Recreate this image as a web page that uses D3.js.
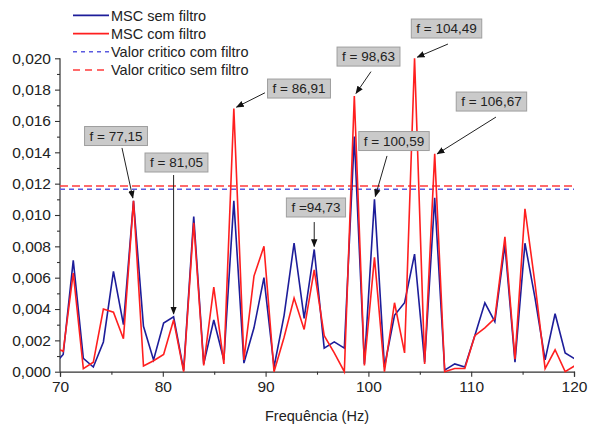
<!DOCTYPE html>
<html>
<head>
<meta charset="utf-8">
<script src="https://cdn.jsdelivr.net/npm/d3@7"></script>
<style>
  body { margin: 0; background: #fff; }
  svg { display: block; font-family: "Liberation Sans", Arial, sans-serif; }
</style>
</head>
<body>
<svg id="chart" width="589" height="425"></svg>
<script>
// frequency bins (Hz)
var freqs = [69.34, 70.31, 71.29, 72.27, 73.24, 74.22, 75.20, 76.17, 77.15, 78.12,
  79.10, 80.08, 81.05, 82.03, 83.01, 83.98, 84.96, 85.94, 86.91, 87.89,
  88.87, 89.84, 90.82, 91.80, 92.77, 93.75, 94.73, 95.70, 96.68, 97.66,
  98.63, 99.61, 100.59, 101.56, 102.54, 103.52, 104.49, 105.47, 106.45, 107.42,
  108.40, 109.38, 110.35, 111.33, 112.30, 113.28, 114.26, 115.23, 116.21, 117.19,
  118.16, 119.14, 120.12];

// MSC sem filtro
var mscSem = [0.0004, 0.0011, 0.0071, 0.00085, 0.0003, 0.0019, 0.0064, 0.0030, 0.0109, 0.0029,
  0.00075, 0.0031, 0.0035, 0.0001, 0.0099, 0.0005, 0.0033, 0.00075, 0.0109, 0.00055,
  0.0028, 0.0060, 0.0003, 0.0036, 0.0082, 0.0034, 0.0078, 0.0015, 0.0019, 0.0015,
  0.0150, 0.0005, 0.0110, 0.0003, 0.0036, 0.0044, 0.0075, 0.0006, 0.0111, 0.0001,
  0.0005, 0.0003, 0.0023, 0.0044, 0.0032, 0.0081, 0.0006, 0.0082, 0.0047, 0.00075,
  0.0037, 0.0012, 0.0008];

// MSC com filtro
var mscCom = [0.0016, 0.0013, 0.0063, 0.0002, 0.0006, 0.0040, 0.0038, 0.0021, 0.0109, 0.00036,
  0.0007, 0.0011, 0.0033, 0.0000, 0.0095, 0.0004, 0.0054, 0.0005, 0.0168, 0.00075,
  0.0061, 0.0080, 0.0000, 0.0022, 0.0047, 0.0027, 0.0065, 0.0023, 0.0012, 0.0000,
  0.0176, 0.0004, 0.0073, 0.0000, 0.0044, 0.0012, 0.0200, 0.0005, 0.0139, 0.0000,
  0.0002, 0.0002, 0.0023, 0.0028, 0.0034, 0.0086, 0.0008, 0.0104, 0.0056, 0.0002,
  0.0014, 0.0000, 0.0004];

var criticoCom = 0.01164;
var criticoSem = 0.01185;

var legendLabels = ["MSC sem filtro", "MSC com filtro", "Valor critico com filtro", "Valor critico sem filtro"];

// annotations: label, point (f, v), box centre (bx, by), arrow tail (ax, ay)
var notes = [
  { label: "f = 77,15",  f: 77.15,  v: 0.0109, bx: 75.45,  by: 0.01504, ax: 76.03,  ay: 0.01428 },
  { label: "f = 81,05",  f: 81.05,  v: 0.0035, bx: 81.33,  by: 0.01335, ax: 81.05,  ay: 0.01255 },
  { label: "f = 86,91",  f: 86.91,  v: 0.0168, bx: 93.25,  by: 0.01807, ax: 89.94,  ay: 0.0178 },
  { label: "f = 98,63",  f: 98.63,  v: 0.0176, bx: 100.01, by: 0.02011, ax: 100.25, ay: 0.01915 },
  { label: "f = 104,49", f: 104.49, v: 0.0200, bx: 107.6,  by: 0.0219,  ax: 107.74, ay: 0.02091 },
  { label: "f = 106,67", f: 106.45, v: 0.0138, bx: 111.97, by: 0.01724, ax: 112.41, ay: 0.01625 },
  { label: "f = 100,59", f: 100.59, v: 0.0110, bx: 102.49, by: 0.01472, ax: 101.81, ay: 0.01377 },
  { label: "f =94,73",   f: 94.73,  v: 0.0078, bx: 94.9,   by: 0.01048, ax: 94.73,  ay: 0.00955 }
];

var colors = { sem: "#1d1d9a", com: "#ff1f1f", critCom: "#5b5be0", critSem: "#ff3b3b" };

var svg = d3.select("#chart");
var x = d3.scaleLinear().domain([70, 120]).range([60, 574]);
var y = d3.scaleLinear().domain([0, 0.020]).range([371.7, 58.3]);

var ptBR = d3.formatLocale({ decimal: ",", thousands: ".", grouping: [3], currency: ["R$", ""] });
var fmt = ptBR.format(".3f");

var defs = svg.append("defs");
defs.append("clipPath").attr("id", "plotclip")
  .append("rect").attr("x", 60).attr("y", 0).attr("width", 514).attr("height", 380);

defs.append("marker")
  .attr("id", "arrow")
  .attr("viewBox", "0 0 10 10")
  .attr("refX", 9).attr("refY", 5)
  .attr("markerWidth", 8).attr("markerHeight", 8)
  .attr("markerUnits", "userSpaceOnUse")
  .attr("orient", "auto")
  .append("path").attr("d", "M0,1 L10,5 L0,9 z").attr("fill", "#111");

// axes
var yAxis = svg.append("g").attr("transform", "translate(60,0)")
  .call(d3.axisLeft(y).tickValues(d3.range(0, 0.0201, 0.002)).tickSize(5).tickFormat(fmt));
svg.append("g").attr("transform", "translate(60,0)")
  .call(d3.axisLeft(y).tickValues(d3.range(0.001, 0.020, 0.002)).tickSize(3).tickFormat(""))
  .select(".domain").remove();

var xAxis = svg.append("g").attr("transform", "translate(0,371.7)")
  .call(d3.axisBottom(x).tickValues([70, 80, 90, 100, 110, 120]).tickSize(5));
svg.append("g").attr("transform", "translate(0,371.7)")
  .call(d3.axisBottom(x).tickValues([75, 85, 95, 105, 115]).tickSize(3).tickFormat(""))
  .select(".domain").remove();

svg.selectAll(".domain").attr("stroke", "#333").attr("stroke-width", 1.2);
svg.selectAll(".tick line").attr("stroke", "#333").attr("stroke-width", 1.1);
yAxis.selectAll("text").attr("font-size", 15.5).attr("fill", "#222").attr("x", -9);
xAxis.selectAll("text").attr("font-size", 15.5).attr("fill", "#222").attr("y", 9);
yAxis.selectAll("path.domain").attr("d", "M0,371.7V58.3");

svg.append("text")
  .attr("x", 317).attr("y", 421)
  .attr("text-anchor", "middle")
  .attr("font-size", 14.5).attr("fill", "#222")
  .text("Frequência (Hz)");

// critical lines
var plot = svg.append("g").attr("clip-path", "url(#plotclip)");
plot.append("line")
  .attr("x1", x(70)).attr("x2", x(120))
  .attr("y1", y(criticoCom)).attr("y2", y(criticoCom))
  .attr("stroke", colors.critCom).attr("stroke-width", 1.5).attr("stroke-dasharray", "5,4");
plot.append("line")
  .attr("x1", x(70)).attr("x2", x(120))
  .attr("y1", y(criticoSem)).attr("y2", y(criticoSem))
  .attr("stroke", colors.critSem).attr("stroke-width", 1.5).attr("stroke-dasharray", "8,4");

var line = d3.line().x(function(d) { return x(d[0]); }).y(function(d) { return y(d[1]); });

plot.append("path")
  .datum(d3.zip(freqs, mscSem))
  .attr("d", line).attr("fill", "none")
  .attr("stroke", colors.sem).attr("stroke-width", 1.6).attr("stroke-linejoin", "miter");
plot.append("path")
  .datum(d3.zip(freqs, mscCom))
  .attr("d", line).attr("fill", "none")
  .attr("stroke", colors.com).attr("stroke-width", 1.6).attr("stroke-linejoin", "miter");

// annotations
var ann = svg.append("g").selectAll("g").data(notes).join("g");
ann.append("line")
  .attr("x1", function(d) { return x(d.ax); })
  .attr("y1", function(d) { return y(d.ay); })
  .attr("x2", function(d) {
    var dx = x(d.f) - x(d.ax), dy = y(d.v) - y(d.ay), L = Math.hypot(dx, dy);
    return x(d.ax) + dx * (L - 3) / L;
  })
  .attr("y2", function(d) {
    var dx = x(d.f) - x(d.ax), dy = y(d.v) - y(d.ay), L = Math.hypot(dx, dy);
    return y(d.ay) + dy * (L - 3) / L;
  })
  .attr("stroke", "#222").attr("stroke-width", 1)
  .attr("marker-end", "url(#arrow)");

ann.each(function(d) {
  var g = d3.select(this);
  var t = g.append("text")
    .attr("x", x(d.bx)).attr("y", y(d.by) + 4.8)
    .attr("text-anchor", "middle")
    .attr("font-size", 13.5).attr("fill", "#222")
    .text(d.label);
  var w = t.node().getComputedTextLength() + 10;
  g.insert("rect", "text")
    .attr("x", x(d.bx) - w / 2).attr("y", y(d.by) - 9.5)
    .attr("width", w).attr("height", 19)
    .attr("fill", "#cacaca").attr("stroke", "#9e9e9e").attr("stroke-width", 1);
});

// legend
var legend = svg.append("g").selectAll("g").data(legendLabels).join("g")
  .attr("transform", function(d, i) { return "translate(0," + (15.4 + i * 18.2) + ")"; });
legend.append("line")
  .attr("x1", 73).attr("x2", 109)
  .attr("stroke", function(d, i) { return [colors.sem, colors.com, colors.critCom, colors.critSem][i]; })
  .attr("stroke-width", function(d, i) { return i < 2 ? 1.8 : 1.6; })
  .attr("stroke-dasharray", function(d, i) { return ["", "", "4,4", "7,5"][i]; });
legend.append("text")
  .attr("x", 111).attr("y", 5.2)
  .attr("font-size", 14.5).attr("fill", "#222")
  .text(function(d) { return d; });
</script>
</body>
</html>
